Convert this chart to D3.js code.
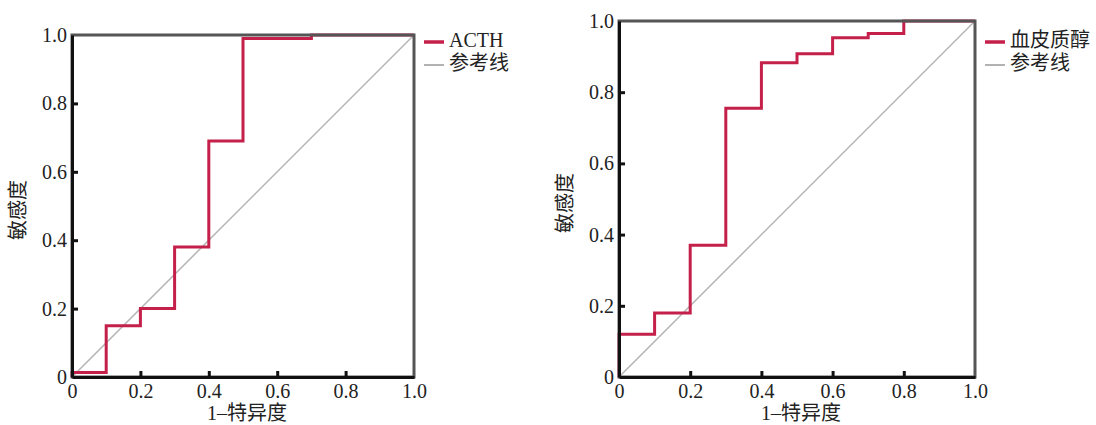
<!DOCTYPE html>
<html>
<head>
<meta charset="utf-8">
<script src="https://cdn.jsdelivr.net/npm/d3@7"></script>
<style>
  body { margin: 0; background: #fff; }
  text { font-family: "Liberation Serif", "Noto Sans CJK SC", serif; fill: #222; }
</style>
</head>
<body>
<svg id="chart" width="1096" height="425"></svg>
<script>
// ROC data (stepAfter points)
const acthFpr = [0, 0, 0.1, 0.2, 0.3, 0.4, 0.5, 0.7, 1.0];
const acthTpr = [0, 0.013, 0.15, 0.2, 0.38, 0.69, 0.99, 1.0, 1.0];
const cortFpr = [0, 0, 0.1, 0.2, 0.3, 0.4, 0.5, 0.6, 0.7, 0.8, 1.0];
const cortTpr = [0, 0.12, 0.18, 0.37, 0.755, 0.883, 0.908, 0.953, 0.965, 1.0, 1.0];
const refLine = [0, 1];
const tickVals = [0, 0.2, 0.4, 0.6, 0.8, 1.0];
const tickLabels = ['0', '0.2', '0.4', '0.6', '0.8', '1.0'];
const xTitle = '1–特异度';
const yTitle = '敏感度';
const refName = '参考线';

const svg = d3.select('#chart');
const red = '#c4204a';

function panel(opt) {
    const g = svg.append('g').attr('transform', 'translate(' + opt.left + ',' + opt.top + ')');
    const w = opt.size, h = opt.size;
    const x = d3.scaleLinear().domain([0, 1]).range([0, w]);
    const y = d3.scaleLinear().domain([0, 1]).range([h, 0]);

    // reference diagonal
    g.append('path')
        .datum(refLine)
        .attr('fill', 'none')
        .attr('stroke', '#b4b4b4')
        .attr('stroke-width', 1.5)
        .attr('d', d3.line().x(d => x(d)).y(d => y(d)));

    // ROC curve
    const pts = opt.fpr.map((f, i) => [f, opt.tpr[i]]);
    g.append('path')
        .datum(pts)
        .attr('fill', 'none')
        .attr('stroke', red)
        .attr('stroke-width', 3)
        .attr('d', d3.line().curve(d3.curveStepAfter).x(d => x(d[0])).y(d => y(d[1])));

    // frame
    g.append('rect')
        .attr('x', 0).attr('y', 0).attr('width', w).attr('height', h)
        .attr('fill', 'none')
        .attr('stroke', '#555')
        .attr('stroke-width', 3);

    const fmt = (d, i) => tickLabels[i];
    const xa = g.append('g')
        .attr('transform', 'translate(0,' + h + ')')
        .call(d3.axisBottom(x).tickValues(tickVals).tickFormat(fmt).tickSizeInner(-6).tickSizeOuter(0).tickPadding(7));
    const ya = g.append('g')
        .call(d3.axisLeft(y).tickValues(tickVals).tickFormat(fmt).tickSizeInner(-6).tickSizeOuter(0).tickPadding(5));
    [xa, ya].forEach(a => {
        a.select('.domain').attr('stroke', '#111').attr('stroke-width', 3);
        a.selectAll('.tick line').attr('stroke', '#111').attr('stroke-width', 3);
        a.selectAll('.tick text').attr('font-size', 20).attr('fill', '#222')
            .style('font-family', '"Liberation Serif", serif');
    });
    xa.selectAll('.tick').filter(d => d === 0 || d === 1).select('line').remove();
    ya.selectAll('.tick').filter(d => d === 0 || d === 1).select('line').remove();

    // axis titles
    g.append('text')
        .attr('x', w / 2 + 4)
        .attr('y', h + 43)
        .attr('text-anchor', 'middle')
        .attr('font-size', 20)
        .text(xTitle);
    g.append('text')
        .attr('transform', 'translate(' + opt.yTitleX + ',' + (h / 2 + 4) + ') rotate(-90)')
        .attr('text-anchor', 'middle')
        .attr('dominant-baseline', 'middle')
        .attr('font-size', 20)
        .text(yTitle);

    // legend
    const lx = w + 10;
    const lg = g.append('g').attr('transform', 'translate(' + lx + ',' + opt.legendY + ')');
    lg.append('line').attr('x1', 0).attr('x2', 20).attr('y1', 0).attr('y2', 0)
        .attr('stroke', red).attr('stroke-width', 3.5);
    lg.append('text').attr('x', 25).attr('y', 0).attr('dominant-baseline', 'middle')
        .attr('font-size', 20).text(opt.name);
    lg.append('line').attr('x1', 0).attr('x2', 20).attr('y1', 23).attr('y2', 23)
        .attr('stroke', '#999').attr('stroke-width', 1.5);
    lg.append('text').attr('x', 25).attr('y', 23).attr('dominant-baseline', 'middle')
        .attr('font-size', 20).text(refName);
}

panel({left: 72, top: 35, size: 342, fpr: acthFpr, tpr: acthTpr, name: 'ACTH', yTitleX: -52, legendY: 7});
panel({left: 619, top: 21, size: 356, fpr: cortFpr, tpr: cortTpr, name: '血皮质醇', yTitleX: -52, legendY: 21});
</script>
</body>
</html>
